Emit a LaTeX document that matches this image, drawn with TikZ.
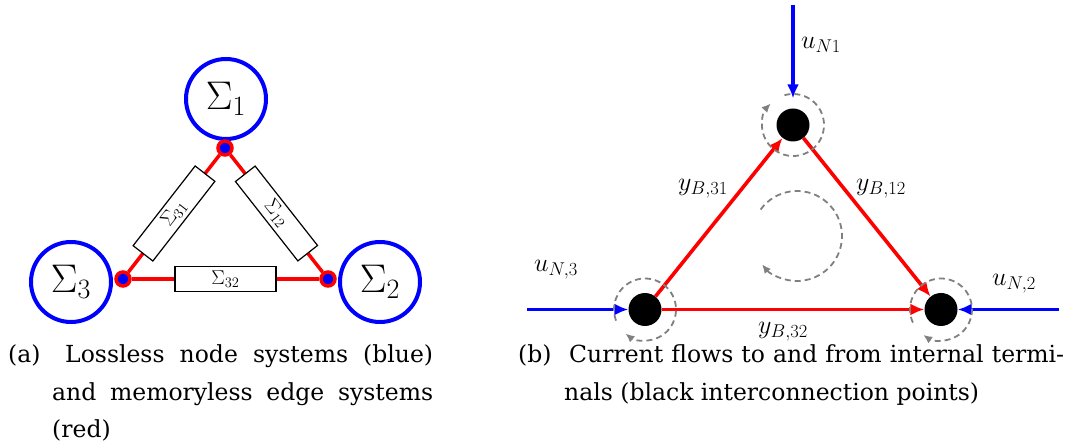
\RequirePackage{fix-cm}
\documentclass[tikz,border=0pt]{standalone}
\usepackage{amsmath,amssymb}
\usepackage{fontspec}
\newfontfamily\capfont{DejaVu Serif}
\usepackage{tikz}
\usetikzlibrary{arrows.meta}
\definecolor{dashgray}{gray}{0.5}
\DeclareMathSizes{20}{20}{14.5}{10}
\DeclareMathSizes{26}{26}{18.5}{13}
\DeclareMathSizes{40}{40}{28}{20}

\begin{document}
\begin{tikzpicture}[x=1pt,y=1pt,>={Latex[length=14pt,width=12pt]}]
\tikzset{sysnode/.style={draw=blue,circle,line width=4pt,minimum size=80pt,inner sep=0pt,font=\fontsize{40}{40}\selectfont},
  port/.style={draw=red,fill=blue,circle,line width=3.5pt,minimum size=14pt,inner sep=0pt},
  edgebox/.style={draw=black,fill=white,text=black,line width=1.2pt,minimum width=101pt,minimum height=25pt,inner sep=0pt,font=\fontsize{20}{20}\selectfont},
  term/.style={circle,fill=black,minimum size=33pt,inner sep=0pt},
  flow/.style={->,red,line width=3.6pt},
  inflow/.style={->,blue,line width=3.6pt},
  spin/.style={>={Latex[length=9pt,width=8pt]},->,dashgray,dash pattern=on 6pt off 4pt,line width=1.8pt},
  lab/.style={font=\fontsize{26}{26}\selectfont},
  captext/.style={anchor=base west,inner sep=0pt,align=justify,font=\capfont\fontsize{23.5}{37.5}\selectfont}}
\useasboundingbox (0,0) rectangle (1069,-446);

% (a) node and edge systems
\node (S1) at (226,-99) [sysnode] {$\Sigma_1$};
\node (S2) at (380,-282) [sysnode] {$\Sigma_2$};
\node (S3) at (71,-282) [sysnode] {$\Sigma_3$};
\node (j1) at (225,-148) [port] {};
\node (j2) at (328,-279) [port] {};
\node (j3) at (123,-279) [port] {};

\draw[red,line width=3.5pt] (j3) -- node[edgebox,sloped] {$\Sigma_{31}$} (j1);
\draw[red,line width=3.5pt] (j1) -- node[edgebox,sloped] {$\Sigma_{12}$} (j2);
\draw[red,line width=3.5pt] (j3) -- node[edgebox] {$\Sigma_{32}$} (j2);

% (b) internal terminals
\node (n1) at (793,-125) [term] {};
\node (n2) at (941,-309.5) [term] {};
\node (n3) at (645,-309.5) [term] {};
\coordinate (in1) at (793,-5);
\coordinate (in2) at (1059,-309.5);
\coordinate (in3) at (527,-309.5);

\draw[inflow,shorten >=10pt] (in1) -- (n1);
\draw[inflow] (in2) -- (n2);
\draw[inflow] (in3) -- (n3);
\draw[flow] (n3) -- (n1);
\draw[flow] (n1) -- (n2);
\draw[flow] (n3) -- (n2);

\draw[spin] ([shift={(106:31)}]n1.center) arc[start angle=106,end angle=-224,radius=31];
\draw[spin] ([shift={(205:31)}]n2.center) arc[start angle=205,end angle=-125,radius=31];
\draw[spin] ([shift={(201:31)}]n3.center) arc[start angle=201,end angle=-129,radius=31];
\coordinate (mid) at (797,-236);
\draw[spin] ([shift={(144:45)}]mid) arc[start angle=144,end angle=-141,radius=45];

\node (u1) at (821,-45) [lab] {$u_{N1}$};
\node (u2) at (1014,-284) [lab] {$u_{N,2}$};
\node (u3) at (556,-270) [lab] {$u_{N,3}$};
\node (y31) at (703,-189) [lab] {$y_{B,31}$};
\node (y12) at (881,-189) [lab] {$y_{B,12}$};
\node (y32) at (783,-332) [lab] {$y_{B,32}$};

% captions
\node (capa) at (8,-363) [captext] {(a)};
\node (capatext) at (52,-363) [captext,text width=381pt] {\tolerance=10000\hspace*{13pt}Lossless node systems (blue)\linebreak and memoryless edge systems\linebreak (red)};
\node (capb) at (518,-363) [captext] {(b)};
\node (capbtext) at (564,-363) [captext,text width=500pt] {\tolerance=10000\hspace*{5pt}Current flows to and from internal termi-\linebreak nals (black interconnection points)};
\end{tikzpicture}
\end{document}
